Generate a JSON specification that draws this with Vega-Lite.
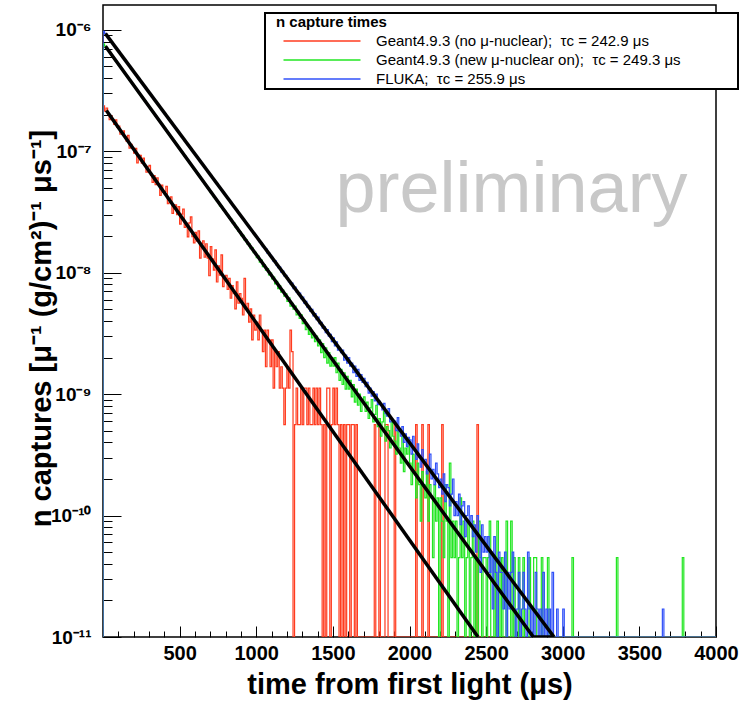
{
  "$schema": "https://vega.github.io/schema/vega-lite/v6.json",
  "width": 613,
  "height": 632,
  "autosize": "none",
  "padding": {"left": 103, "top": 5, "right": 27, "bottom": 64},
  "background": "white",
  "config": {
    "view": {"stroke": "black", "strokeWidth": 1.5},
    "font": "Liberation Sans"
  },
  "datasets": {
    "red": [
      {"t":0,"v":1e-11},
      {"t":0,"v":2.36e-7},{"t":10,"v":2.14e-7},{"t":20,"v":2.27e-7},{"t":30,"v":2.03e-7},{"t":40,"v":1.82e-7},{"t":50,"v":1.95e-7},{"t":60,"v":1.82e-7},{"t":70,"v":1.66e-7},{"t":80,"v":1.81e-7},{"t":90,"v":1.57e-7},
      {"t":100,"v":1.61e-7},{"t":110,"v":1.38e-7},{"t":120,"v":1.39e-7},{"t":130,"v":1.47e-7},{"t":140,"v":1.32e-7},{"t":150,"v":1.21e-7},{"t":160,"v":1.35e-7},{"t":170,"v":1.06e-7},{"t":180,"v":1.14e-7},{"t":190,"v":1.06e-7},
      {"t":200,"v":9.62e-8},{"t":210,"v":1.056e-7},{"t":220,"v":8.03e-8},{"t":230,"v":9.3e-8},{"t":240,"v":9.26e-8},{"t":250,"v":7.96e-8},{"t":260,"v":8.79e-8},{"t":270,"v":7.64e-8},{"t":280,"v":6.74e-8},{"t":290,"v":7.43e-8},
      {"t":300,"v":7.66e-8},{"t":310,"v":6.31e-8},{"t":320,"v":5.55e-8},{"t":330,"v":6.29e-8},{"t":340,"v":5.31e-8},{"t":350,"v":6.04e-8},{"t":360,"v":5.37e-8},{"t":370,"v":4.33e-8},{"t":380,"v":5.25e-8},{"t":390,"v":4.58e-8},
      {"t":400,"v":4.67e-8},{"t":410,"v":5.14e-8},{"t":420,"v":3.71e-8},{"t":430,"v":3.78e-8},{"t":440,"v":4.21e-8},{"t":450,"v":3.08e-8},{"t":460,"v":3.61e-8},{"t":470,"v":3.61e-8},{"t":480,"v":3.01e-8},{"t":490,"v":3.5e-8},
      {"t":500,"v":2.51e-8},{"t":510,"v":3.04e-8},{"t":520,"v":3.34e-8},{"t":530,"v":2.36e-8},{"t":540,"v":2.55e-8},{"t":550,"v":1.97e-8},{"t":560,"v":2.57e-8},{"t":570,"v":2.88e-8},{"t":580,"v":1.98e-8},{"t":590,"v":1.76e-8},
      {"t":600,"v":2.15e-8},{"t":610,"v":1.82e-8},{"t":620,"v":2.21e-8},{"t":630,"v":1.32e-8},{"t":640,"v":1.74e-8},{"t":650,"v":1.83e-8},{"t":660,"v":1.34e-8},{"t":670,"v":1.73e-8},{"t":680,"v":1.32e-8},{"t":690,"v":9.43e-9},
      {"t":700,"v":1.64e-8},{"t":710,"v":1.3e-8},{"t":720,"v":1.05e-8},{"t":730,"v":1.54e-8},{"t":740,"v":8.38e-9},{"t":750,"v":1.14e-8},{"t":760,"v":9.55e-9},{"t":770,"v":1.4e-8},{"t":780,"v":7.68e-9},{"t":790,"v":8.98e-9},
      {"t":800,"v":9.52e-9},{"t":810,"v":7.28e-9},{"t":820,"v":8.96e-9},{"t":830,"v":6.16e-9},{"t":840,"v":7.84e-9},{"t":850,"v":6.72e-9},{"t":860,"v":5.04e-9},{"t":870,"v":8.4e-9},{"t":880,"v":5.6e-9},{"t":890,"v":6.72e-9},
      {"t":900,"v":6.16e-9},{"t":910,"v":4.48e-9},{"t":920,"v":8.96e-9},{"t":930,"v":5.04e-9},{"t":940,"v":5.6e-9},{"t":950,"v":3.92e-9},{"t":960,"v":5.04e-9},{"t":970,"v":2.8e-9},{"t":980,"v":4.48e-9},{"t":990,"v":3.36e-9},
      {"t":1000,"v":3.92e-9},{"t":1010,"v":2.8e-9},{"t":1020,"v":4.48e-9},{"t":1030,"v":3.36e-9},{"t":1040,"v":2.24e-9},{"t":1050,"v":3.36e-9},{"t":1060,"v":1.68e-9},{"t":1070,"v":3.36e-9},{"t":1080,"v":2.8e-9},{"t":1090,"v":1.68e-9},
      {"t":1100,"v":2.8e-9},{"t":1110,"v":1.12e-9},{"t":1120,"v":2.24e-9},{"t":1130,"v":1.68e-9},{"t":1140,"v":2.24e-9},{"t":1150,"v":1.12e-9},{"t":1160,"v":1.68e-9},{"t":1170,"v":1.12e-9},{"t":1180,"v":5.6e-10},{"t":1190,"v":1.12e-9},
      {"t":1200,"v":1.68e-9},{"t":1210,"v":1.12e-9},{"t":1220,"v":3.36e-9},{"t":1230,"v":2.24e-9},{"t":1240,"v":1e-11},{"t":1250,"v":5.6e-10},{"t":1260,"v":1.12e-9},{"t":1270,"v":5.6e-10},{"t":1290,"v":1.12e-9},
      {"t":1300,"v":5.6e-10},{"t":1310,"v":1.12e-9},{"t":1330,"v":5.6e-10},{"t":1340,"v":1.12e-9},{"t":1350,"v":5.6e-10},{"t":1370,"v":1.12e-9},{"t":1380,"v":5.6e-10},{"t":1390,"v":1.12e-9},
      {"t":1400,"v":5.6e-10},{"t":1410,"v":1.12e-9},{"t":1420,"v":5.6e-10},{"t":1430,"v":1e-11},{"t":1440,"v":5.6e-10},{"t":1450,"v":1e-11},{"t":1460,"v":1.12e-9},{"t":1480,"v":1e-11},{"t":1490,"v":5.6e-10},
      {"t":1500,"v":1.12e-9},{"t":1510,"v":5.6e-10},{"t":1520,"v":1.12e-9},{"t":1530,"v":5.6e-10},{"t":1540,"v":1e-11},{"t":1550,"v":5.6e-10},{"t":1560,"v":1e-11},{"t":1570,"v":5.6e-10},{"t":1580,"v":1e-11},{"t":1590,"v":5.6e-10},
      {"t":1610,"v":1e-11},{"t":1620,"v":5.6e-10},{"t":1640,"v":1e-11},{"t":1650,"v":5.6e-10},{"t":1660,"v":1e-11},
      {"t":1770,"v":5.6e-10},{"t":1780,"v":1e-11},{"t":1800,"v":5.6e-10},{"t":1810,"v":1e-11},{"t":1840,"v":5.6e-10},{"t":1860,"v":1e-11},{"t":1900,"v":5.6e-10},{"t":1910,"v":1e-11},
      {"t":2040,"v":5.6e-10},{"t":2050,"v":1e-11},{"t":2080,"v":5.6e-10},{"t":2090,"v":1e-11},{"t":2120,"v":5.6e-10},{"t":2130,"v":1e-11},{"t":2210,"v":5.6e-10},{"t":2220,"v":1e-11},{"t":2440,"v":5.6e-10},{"t":2450,"v":1e-11},
      {"t":4000,"v":1e-11}
    ],
    "green": [
      {"t":0,"v":1e-11},
      {"t":0,"v":7.65e-7},{"t":10,"v":7.34e-7},{"t":20,"v":7.06e-7},{"t":30,"v":6.78e-7},{"t":40,"v":6.51e-7},{"t":50,"v":6.26e-7},{"t":60,"v":6.01e-7},{"t":70,"v":5.77e-7},{"t":80,"v":5.55e-7},{"t":90,"v":5.33e-7},
      {"t":100,"v":5.12e-7},{"t":110,"v":4.92e-7},{"t":120,"v":4.72e-7},{"t":130,"v":4.54e-7},{"t":140,"v":4.36e-7},{"t":150,"v":4.19e-7},{"t":160,"v":4.02e-7},{"t":170,"v":3.87e-7},{"t":180,"v":3.71e-7},{"t":190,"v":3.57e-7},
      {"t":200,"v":3.43e-7},{"t":210,"v":3.29e-7},{"t":220,"v":3.16e-7},{"t":230,"v":3.04e-7},{"t":240,"v":2.92e-7},{"t":250,"v":2.8e-7},{"t":260,"v":2.69e-7},{"t":270,"v":2.59e-7},{"t":280,"v":2.49e-7},{"t":290,"v":2.39e-7},
      {"t":300,"v":2.3e-7},{"t":310,"v":2.2e-7},{"t":320,"v":2.12e-7},{"t":330,"v":2.03e-7},{"t":340,"v":1.95e-7},{"t":350,"v":1.88e-7},{"t":360,"v":1.8e-7},{"t":370,"v":1.73e-7},{"t":380,"v":1.67e-7},{"t":390,"v":1.6e-7},
      {"t":400,"v":1.54e-7},{"t":410,"v":1.48e-7},{"t":420,"v":1.42e-7},{"t":430,"v":1.36e-7},{"t":440,"v":1.31e-7},{"t":450,"v":1.26e-7},{"t":460,"v":1.21e-7},{"t":470,"v":1.16e-7},{"t":480,"v":1.12e-7},{"t":490,"v":1.07e-7},
      {"t":500,"v":1.03e-7},{"t":510,"v":9.89e-8},{"t":520,"v":9.5e-8},{"t":530,"v":9.12e-8},{"t":540,"v":8.76e-8},{"t":550,"v":8.42e-8},{"t":560,"v":8.09e-8},{"t":570,"v":7.77e-8},{"t":580,"v":7.47e-8},{"t":590,"v":7.17e-8},
      {"t":600,"v":6.89e-8},{"t":610,"v":6.62e-8},{"t":620,"v":6.36e-8},{"t":630,"v":6.11e-8},{"t":640,"v":5.87e-8},{"t":650,"v":5.64e-8},{"t":660,"v":5.41e-8},{"t":670,"v":5.2e-8},{"t":680,"v":5e-8},{"t":690,"v":4.8e-8},
      {"t":700,"v":4.55e-8},{"t":710,"v":4.48e-8},{"t":720,"v":4.2e-8},{"t":730,"v":4.12e-8},{"t":740,"v":3.88e-8},{"t":750,"v":3.82e-8},{"t":760,"v":3.55e-8},{"t":770,"v":3.52e-8},{"t":780,"v":3.3e-8},{"t":790,"v":3.25e-8},
      {"t":800,"v":3.05e-8},{"t":810,"v":2.99e-8},{"t":820,"v":2.8e-8},{"t":830,"v":2.78e-8},{"t":840,"v":2.58e-8},{"t":850,"v":2.57e-8},{"t":860,"v":2.38e-8},{"t":870,"v":2.36e-8},{"t":880,"v":2.2e-8},{"t":890,"v":2.18e-8},
      {"t":900,"v":2.02e-8},{"t":910,"v":2.03e-8},{"t":920,"v":1.86e-8},{"t":930,"v":1.87e-8},{"t":940,"v":1.72e-8},{"t":950,"v":1.73e-8},{"t":960,"v":1.58e-8},{"t":970,"v":1.6e-8},{"t":980,"v":1.46e-8},{"t":990,"v":1.47e-8},
      {"t":1000,"v":1.33e-8},{"t":1010,"v":1.37e-8},{"t":1020,"v":1.22e-8},{"t":1030,"v":1.27e-8},{"t":1040,"v":1.12e-8},{"t":1050,"v":1.16e-8},{"t":1060,"v":1.05e-8},{"t":1070,"v":1.08e-8},{"t":1080,"v":9.6e-9},{"t":1090,"v":9.9e-9},
      {"t":1100,"v":8.9e-9},{"t":1110,"v":9.2e-9},{"t":1120,"v":8.1e-9},{"t":1130,"v":8.5e-9},{"t":1140,"v":7.4e-9},{"t":1150,"v":7.8e-9},{"t":1160,"v":6.9e-9},{"t":1170,"v":7.2e-9},{"t":1180,"v":6.4e-9},{"t":1190,"v":6.7e-9},
      {"t":1200,"v":5.8e-9},{"t":1210,"v":6.2e-9},{"t":1220,"v":5.3e-9},{"t":1230,"v":5.6e-9},{"t":1240,"v":5e-9},{"t":1250,"v":5.3e-9},{"t":1260,"v":4.5e-9},{"t":1270,"v":4.8e-9},{"t":1280,"v":4.2e-9},{"t":1290,"v":4.5e-9},
      {"t":1300,"v":3.8e-9},{"t":1310,"v":4.1e-9},{"t":1320,"v":3.4e-9},{"t":1330,"v":3.6e-9},{"t":1340,"v":3.1e-9},{"t":1350,"v":3.5e-9},{"t":1360,"v":2.9e-9},{"t":1370,"v":3.2e-9},{"t":1380,"v":2.7e-9},{"t":1390,"v":3e-9},
      {"t":1400,"v":2.5e-9},{"t":1410,"v":2.8e-9},{"t":1420,"v":2.2e-9},{"t":1430,"v":2.6e-9},{"t":1440,"v":2e-9},{"t":1450,"v":2.4e-9},{"t":1460,"v":1.8e-9},{"t":1470,"v":2.2e-9},{"t":1480,"v":1.7e-9},{"t":1490,"v":2e-9},
      {"t":1500,"v":1.7e-9},{"t":1510,"v":2e-9},{"t":1520,"v":1.5e-9},{"t":1530,"v":1.8e-9},{"t":1540,"v":1.3e-9},{"t":1550,"v":1.6e-9},{"t":1560,"v":1.2e-9},{"t":1570,"v":1.5e-9},{"t":1580,"v":1.1e-9},{"t":1590,"v":1.4e-9},
      {"t":1600,"v":1.1e-9},{"t":1610,"v":1.3e-9},{"t":1620,"v":9.5e-10},{"t":1630,"v":1.2e-9},{"t":1640,"v":8.6e-10},{"t":1650,"v":1.1e-9},{"t":1660,"v":8.1e-10},{"t":1670,"v":1e-9},{"t":1680,"v":7.2e-10},{"t":1690,"v":9e-10},
      {"t":1700,"v":9.5e-10},{"t":1710,"v":7.2e-10},{"t":1720,"v":8.6e-10},{"t":1730,"v":6.3e-10},{"t":1740,"v":7.7e-10},{"t":1750,"v":9e-10},{"t":1760,"v":5.9e-10},{"t":1770,"v":6.8e-10},{"t":1780,"v":8.1e-10},{"t":1790,"v":5.4e-10},
      {"t":1800,"v":6.3e-10},{"t":1810,"v":4.5e-10},{"t":1820,"v":5.9e-10},{"t":1830,"v":7.2e-10},{"t":1840,"v":4.1e-10},{"t":1850,"v":5.4e-10},{"t":1860,"v":5e-10},{"t":1870,"v":3.6e-10},{"t":1880,"v":5.9e-10},{"t":1890,"v":4.5e-10},
      {"t":1900,"v":4.1e-10},{"t":1910,"v":3.2e-10},{"t":1920,"v":5e-10},{"t":1930,"v":3.6e-10},{"t":1940,"v":2.7e-10},{"t":1950,"v":4.5e-10},{"t":1960,"v":2.3e-10},{"t":1970,"v":3.6e-10},{"t":1980,"v":3.2e-10},{"t":1990,"v":4.1e-10},
      {"t":2000,"v":2.7e-10},{"t":2010,"v":1.8e-10},{"t":2020,"v":3.2e-10},{"t":2030,"v":2.3e-10},{"t":2040,"v":1.4e-10},{"t":2050,"v":2.7e-10},{"t":2060,"v":1.8e-10},{"t":2070,"v":9e-11},{"t":2080,"v":2.3e-10},{"t":2090,"v":1.8e-10},
      {"t":2100,"v":1.4e-10},{"t":2110,"v":2.3e-10},{"t":2120,"v":9e-11},{"t":2130,"v":1.8e-10},{"t":2140,"v":1.4e-10},{"t":2150,"v":4.5e-11},{"t":2160,"v":1.8e-10},{"t":2170,"v":9e-11},{"t":2180,"v":1.4e-10},{"t":2190,"v":1e-11},
      {"t":2200,"v":1.4e-10},{"t":2210,"v":9e-11},{"t":2220,"v":4.5e-11},{"t":2230,"v":1.8e-10},{"t":2240,"v":9e-11},{"t":2250,"v":1e-11},{"t":2260,"v":2.7e-10},{"t":2270,"v":4.5e-11},{"t":2280,"v":9e-11},{"t":2290,"v":4.5e-11},
      {"t":2300,"v":9e-11},{"t":2310,"v":1e-11},{"t":2320,"v":4.5e-11},{"t":2330,"v":1.4e-10},{"t":2340,"v":4.5e-11},{"t":2350,"v":9e-11},{"t":2360,"v":1e-11},{"t":2370,"v":4.5e-11},{"t":2380,"v":9e-11},{"t":2390,"v":1e-11},
      {"t":2400,"v":4.5e-11},{"t":2410,"v":9e-11},{"t":2420,"v":1e-11},{"t":2430,"v":4.5e-11},{"t":2440,"v":1e-11},{"t":2450,"v":9e-11},{"t":2460,"v":4.5e-11},{"t":2470,"v":1e-11},{"t":2480,"v":4.5e-11},
      {"t":2500,"v":1e-11},{"t":2510,"v":4.5e-11},{"t":2520,"v":9e-11},{"t":2530,"v":1e-11},{"t":2550,"v":4.5e-11},{"t":2560,"v":1e-11},{"t":2570,"v":9e-11},{"t":2580,"v":4.5e-11},{"t":2590,"v":1e-11},
      {"t":2600,"v":4.5e-11},{"t":2610,"v":1e-11},{"t":2630,"v":9e-11},{"t":2640,"v":1e-11},{"t":2660,"v":9e-11},{"t":2670,"v":1e-11},{"t":2680,"v":4.5e-11},{"t":2690,"v":1e-11},
      {"t":2710,"v":4.5e-11},{"t":2720,"v":1e-11},{"t":2740,"v":4.5e-11},{"t":2750,"v":1e-11},{"t":2780,"v":4.5e-11},{"t":2790,"v":1e-11},
      {"t":2810,"v":4.5e-11},{"t":2830,"v":1e-11},{"t":2860,"v":4.5e-11},{"t":2870,"v":1e-11},{"t":2900,"v":4.5e-11},{"t":2910,"v":1e-11},
      {"t":3060,"v":4.5e-11},{"t":3070,"v":1e-11},{"t":3350,"v":4.5e-11},{"t":3360,"v":1e-11},{"t":3780,"v":4.5e-11},{"t":3790,"v":1e-11},
      {"t":4000,"v":1e-11}
    ],
    "blue": [
      {"t":0,"v":1e-11},
      {"t":0,"v":9.71e-7},{"t":10,"v":9.34e-7},{"t":20,"v":8.98e-7},{"t":30,"v":8.63e-7},{"t":40,"v":8.3e-7},{"t":50,"v":7.98e-7},{"t":60,"v":7.68e-7},{"t":70,"v":7.38e-7},{"t":80,"v":7.1e-7},{"t":90,"v":6.83e-7},
      {"t":100,"v":6.57e-7},{"t":110,"v":6.32e-7},{"t":120,"v":6.07e-7},{"t":130,"v":5.84e-7},{"t":140,"v":5.62e-7},{"t":150,"v":5.4e-7},{"t":160,"v":5.2e-7},{"t":170,"v":5e-7},{"t":180,"v":4.8e-7},{"t":190,"v":4.62e-7},
      {"t":200,"v":4.44e-7},{"t":210,"v":4.27e-7},{"t":220,"v":4.11e-7},{"t":230,"v":3.95e-7},{"t":240,"v":3.8e-7},{"t":250,"v":3.65e-7},{"t":260,"v":3.51e-7},{"t":270,"v":3.38e-7},{"t":280,"v":3.25e-7},{"t":290,"v":3.13e-7},
      {"t":300,"v":3.01e-7},{"t":310,"v":2.89e-7},{"t":320,"v":2.78e-7},{"t":330,"v":2.67e-7},{"t":340,"v":2.57e-7},{"t":350,"v":2.47e-7},{"t":360,"v":2.38e-7},{"t":370,"v":2.29e-7},{"t":380,"v":2.2e-7},{"t":390,"v":2.11e-7},
      {"t":400,"v":2.03e-7},{"t":410,"v":1.96e-7},{"t":420,"v":1.88e-7},{"t":430,"v":1.81e-7},{"t":440,"v":1.74e-7},{"t":450,"v":1.67e-7},{"t":460,"v":1.61e-7},{"t":470,"v":1.55e-7},{"t":480,"v":1.49e-7},{"t":490,"v":1.43e-7},
      {"t":500,"v":1.38e-7},{"t":510,"v":1.32e-7},{"t":520,"v":1.27e-7},{"t":530,"v":1.22e-7},{"t":540,"v":1.18e-7},{"t":550,"v":1.13e-7},{"t":560,"v":1.09e-7},{"t":570,"v":1.05e-7},{"t":580,"v":1.01e-7},{"t":590,"v":9.68e-8},
      {"t":600,"v":9.31e-8},{"t":610,"v":8.95e-8},{"t":620,"v":8.61e-8},{"t":630,"v":8.28e-8},{"t":640,"v":7.96e-8},{"t":650,"v":7.66e-8},{"t":660,"v":7.36e-8},{"t":670,"v":7.08e-8},{"t":680,"v":6.81e-8},{"t":690,"v":6.55e-8},
      {"t":700,"v":6.3e-8},{"t":710,"v":6.06e-8},{"t":720,"v":5.82e-8},{"t":730,"v":5.6e-8},{"t":740,"v":5.39e-8},{"t":750,"v":5.18e-8},{"t":760,"v":4.98e-8},{"t":770,"v":4.79e-8},{"t":780,"v":4.61e-8},{"t":790,"v":4.43e-8},
      {"t":800,"v":4.26e-8},{"t":810,"v":4.1e-8},{"t":820,"v":3.94e-8},{"t":830,"v":3.79e-8},{"t":840,"v":3.64e-8},{"t":850,"v":3.5e-8},{"t":860,"v":3.37e-8},{"t":870,"v":3.24e-8},{"t":880,"v":3.12e-8},{"t":890,"v":3e-8},
      {"t":900,"v":2.88e-8},{"t":910,"v":2.77e-8},{"t":920,"v":2.67e-8},{"t":930,"v":2.56e-8},{"t":940,"v":2.47e-8},{"t":950,"v":2.37e-8},{"t":960,"v":2.28e-8},{"t":970,"v":2.19e-8},{"t":980,"v":2.11e-8},{"t":990,"v":2.03e-8},
      {"t":1000,"v":1.96e-8},{"t":1010,"v":1.9e-8},{"t":1020,"v":1.78e-8},{"t":1030,"v":1.75e-8},{"t":1040,"v":1.64e-8},{"t":1050,"v":1.62e-8},{"t":1060,"v":1.57e-8},{"t":1070,"v":1.45e-8},{"t":1080,"v":1.44e-8},{"t":1090,"v":1.39e-8},
      {"t":1100,"v":1.34e-8},{"t":1110,"v":1.24e-8},{"t":1120,"v":1.25e-8},{"t":1130,"v":1.15e-8},{"t":1140,"v":1.1e-8},{"t":1150,"v":1.11e-8},{"t":1160,"v":1.01e-8},{"t":1170,"v":1.03e-8},{"t":1180,"v":9.4e-9},{"t":1190,"v":9.5e-9},
      {"t":1200,"v":9.1e-9},{"t":1210,"v":8.4e-9},{"t":1220,"v":8.1e-9},{"t":1230,"v":8.2e-9},{"t":1240,"v":7.4e-9},{"t":1250,"v":7.6e-9},{"t":1260,"v":6.9e-9},{"t":1270,"v":6.7e-9},{"t":1280,"v":6.8e-9},{"t":1290,"v":6.1e-9},
      {"t":1300,"v":6.3e-9},{"t":1310,"v":5.6e-9},{"t":1320,"v":5.8e-9},{"t":1330,"v":5.2e-9},{"t":1340,"v":5.3e-9},{"t":1350,"v":4.8e-9},{"t":1360,"v":5e-9},{"t":1370,"v":4.4e-9},{"t":1380,"v":4.6e-9},{"t":1390,"v":4.1e-9},
      {"t":1400,"v":4.3e-9},{"t":1410,"v":3.8e-9},{"t":1420,"v":3.9e-9},{"t":1430,"v":3.5e-9},{"t":1440,"v":3.6e-9},{"t":1450,"v":3.2e-9},{"t":1460,"v":3.4e-9},{"t":1470,"v":3e-9},{"t":1480,"v":3.1e-9},{"t":1490,"v":2.7e-9},
      {"t":1500,"v":2.9e-9},{"t":1510,"v":2.5e-9},{"t":1520,"v":2.7e-9},{"t":1530,"v":2.3e-9},{"t":1540,"v":2.4e-9},{"t":1550,"v":2.2e-9},{"t":1560,"v":2.3e-9},{"t":1570,"v":1.9e-9},{"t":1580,"v":2.1e-9},{"t":1590,"v":1.8e-9},
      {"t":1600,"v":2e-9},{"t":1610,"v":1.7e-9},{"t":1620,"v":1.8e-9},{"t":1630,"v":1.5e-9},{"t":1640,"v":1.7e-9},{"t":1650,"v":1.4e-9},{"t":1660,"v":1.6e-9},{"t":1670,"v":1.3e-9},{"t":1680,"v":1.45e-9},{"t":1690,"v":1.25e-9},
      {"t":1700,"v":1.35e-9},{"t":1710,"v":1.15e-9},{"t":1720,"v":1.25e-9},{"t":1730,"v":1.02e-9},{"t":1740,"v":1.12e-9},{"t":1750,"v":9.6e-10},{"t":1760,"v":1.05e-9},{"t":1770,"v":8.8e-10},{"t":1780,"v":1e-9},{"t":1790,"v":8.2e-10},
      {"t":1800,"v":8.7e-10},{"t":1810,"v":8.2e-10},{"t":1820,"v":7.4e-10},{"t":1830,"v":8.4e-10},{"t":1840,"v":6.9e-10},{"t":1850,"v":6.6e-10},{"t":1860,"v":7.6e-10},{"t":1870,"v":5.9e-10},{"t":1880,"v":6.2e-10},{"t":1890,"v":6e-10},
      {"t":1900,"v":6e-10},{"t":1910,"v":5e-10},{"t":1920,"v":6.4e-10},{"t":1930,"v":4.9e-10},{"t":1940,"v":4.5e-10},{"t":1950,"v":5.4e-10},{"t":1960,"v":4e-10},{"t":1970,"v":4.7e-10},{"t":1980,"v":3.7e-10},{"t":1990,"v":4.4e-10},
      {"t":2000,"v":4.2e-10},{"t":2010,"v":3.2e-10},{"t":2020,"v":4.5e-10},{"t":2030,"v":3.5e-10},{"t":2040,"v":2.9e-10},{"t":2050,"v":3.9e-10},{"t":2060,"v":3e-10},{"t":2070,"v":2.5e-10},{"t":2080,"v":3.5e-10},{"t":2090,"v":2.7e-10},
      {"t":2100,"v":2.9e-10},{"t":2110,"v":2.2e-10},{"t":2120,"v":2.5e-10},{"t":2130,"v":3.2e-10},{"t":2140,"v":2e-10},{"t":2150,"v":2.4e-10},{"t":2160,"v":1.8e-10},{"t":2170,"v":2.7e-10},{"t":2180,"v":2.2e-10},{"t":2190,"v":1.7e-10},
      {"t":2200,"v":2e-10},{"t":2210,"v":1.5e-10},{"t":2220,"v":2.2e-10},{"t":2230,"v":1.3e-10},{"t":2240,"v":1.8e-10},{"t":2250,"v":1.7e-10},{"t":2260,"v":1.2e-10},{"t":2270,"v":1.5e-10},{"t":2280,"v":2e-10},{"t":2290,"v":1e-10},
      {"t":2300,"v":1.3e-10},{"t":2310,"v":1e-10},{"t":2320,"v":1.5e-10},{"t":2330,"v":8.4e-11},{"t":2340,"v":1.2e-10},{"t":2350,"v":1.3e-10},{"t":2360,"v":6.7e-11},{"t":2370,"v":1e-10},{"t":2380,"v":1.2e-10},{"t":2390,"v":8.4e-11},
      {"t":2400,"v":1e-10},{"t":2410,"v":6.7e-11},{"t":2420,"v":8.4e-11},{"t":2430,"v":5e-11},{"t":2440,"v":1e-10},{"t":2450,"v":6.7e-11},{"t":2460,"v":3.4e-11},{"t":2470,"v":8.4e-11},{"t":2480,"v":5e-11},{"t":2490,"v":6.7e-11},
      {"t":2500,"v":5e-11},{"t":2510,"v":6.7e-11},{"t":2520,"v":3.4e-11},{"t":2530,"v":5e-11},{"t":2540,"v":1.7e-11},{"t":2550,"v":6.7e-11},{"t":2560,"v":3.4e-11},{"t":2570,"v":1e-11},{"t":2580,"v":5e-11},{"t":2590,"v":3.4e-11},
      {"t":2610,"v":1.7e-11},{"t":2620,"v":5e-11},{"t":2630,"v":1e-11},{"t":2640,"v":3.4e-11},{"t":2650,"v":1.7e-11},{"t":2660,"v":3.4e-11},{"t":2670,"v":5e-11},{"t":2680,"v":1.7e-11},{"t":2690,"v":1e-11},
      {"t":2700,"v":1.7e-11},{"t":2710,"v":3.4e-11},{"t":2720,"v":1e-11},{"t":2730,"v":1.7e-11},{"t":2740,"v":3.4e-11},{"t":2750,"v":1.7e-11},{"t":2760,"v":1e-11},{"t":2770,"v":5e-11},{"t":2780,"v":1.7e-11},{"t":2790,"v":1e-11},
      {"t":2800,"v":1.7e-11},{"t":2810,"v":1e-11},{"t":2820,"v":3.4e-11},{"t":2830,"v":1.7e-11},{"t":2840,"v":1e-11},{"t":2850,"v":1.7e-11},{"t":2860,"v":1e-11},{"t":2870,"v":3.4e-11},{"t":2880,"v":1e-11},{"t":2890,"v":1.7e-11},
      {"t":2900,"v":1e-11},{"t":2910,"v":1.7e-11},{"t":2920,"v":1e-11},{"t":2930,"v":3.4e-11},{"t":2940,"v":1e-11},{"t":2960,"v":1.7e-11},{"t":2970,"v":1e-11},{"t":3000,"v":1.7e-11},{"t":3010,"v":1e-11},
      {"t":3650,"v":1.7e-11},{"t":3660,"v":1e-11},
      {"t":4000,"v":1e-11}
    ],
    "fit": [
      {"f":"r","t":22,"v":2.16e-7},{"f":"r","t":2447,"v":1e-11},
      {"f":"g","t":16,"v":7.31e-7},{"f":"g","t":2808,"v":1e-11},{"f":"g","t":2935,"v":1e-11},
      {"f":"b","t":16,"v":9.3e-7},{"f":"b","t":2943,"v":1e-11}
    ]
  },
  "encoding": {
    "x": {
      "field": "t",
      "type": "quantitative",
      "scale": {"domain": [0, 4000], "nice": false, "zero": false},
      "axis": {
        "values": [0,100,200,300,400,500,600,700,800,900,1000,1100,1200,1300,1400,1500,1600,1700,1800,1900,2000,2100,2200,2300,2400,2500,2600,2700,2800,2900,3000,3100,3200,3300,3400,3500,3600,3700,3800,3900,4000],
        "labelExpr": "datum.value > 0 && datum.value % 500 == 0 ? format(datum.value, 'd') : ''",
        "tickSize": {"condition": {"test": "datum.value % 500 == 0", "value": -11}, "value": -6},
        "tickColor": "black",
        "tickWidth": 1,
        "domain": false,
        "grid": false,
        "labelFont": "Liberation Sans",
        "labelFontSize": 20,
        "labelFontWeight": "bold",
        "labelColor": "black",
        "labelPadding": 17,
        "labelBaseline": "top",
        "labelFlush": false,
        "labelOverlap": false,
        "title": "time from first light (μs)",
        "titleFont": "Liberation Sans",
        "titleFontSize": 29,
        "titleFontWeight": "bold",
        "titleColor": "black",
        "titleBaseline": "alphabetic",
        "titleY": 56
      }
    },
    "y": {
      "field": "v",
      "type": "quantitative",
      "scale": {"type": "log", "domain": [1e-11, 1.6e-6], "nice": false},
      "axis": {
        "values": [1e-11,2e-11,3e-11,4e-11,5e-11,6e-11,7e-11,8e-11,9e-11,1e-10,2e-10,3e-10,4e-10,5e-10,6e-10,7e-10,8e-10,9e-10,1e-9,2e-9,3e-9,4e-9,5e-9,6e-9,7e-9,8e-9,9e-9,1e-8,2e-8,3e-8,4e-8,5e-8,6e-8,7e-8,8e-8,9e-8,1e-7,2e-7,3e-7,4e-7,5e-7,6e-7,7e-7,8e-7,9e-7,1e-6],
        "labelExpr": "datum.value == 1e-6 ? '10⁻⁶' : datum.value == 1e-7 ? '10⁻⁷' : datum.value == 1e-8 ? '10⁻⁸' : datum.value == 1e-9 ? '10⁻⁹' : datum.value == 1e-10 ? '10⁻¹⁰' : datum.value == 1e-11 ? '10⁻¹¹' : ''",
        "tickSize": {"condition": {"test": "indexof([1e-11,1e-10,1e-9,1e-8,1e-7,1e-6], datum.value) >= 0", "value": -18}, "value": -9},
        "tickColor": "black",
        "tickWidth": 1,
        "domain": false,
        "grid": false,
        "labelFont": "Liberation Sans",
        "labelFontSize": 19,
        "labelFontWeight": "bold",
        "labelColor": "black",
        "labelPadding": 30,
        "labelFlush": false,
        "labelOverlap": false,
        "title": "n captures [μ⁻¹ (g/cm²)⁻¹ μs⁻¹]",
        "titleFont": "Liberation Sans",
        "titleFontSize": 29,
        "titleFontWeight": "bold",
        "titleColor": "black",
        "titleBaseline": "alphabetic",
        "titleAngle": -90,
        "titleAlign": "center",
        "titleX": -53,
        "titleY": 323
      }
    }
  },
  "layer": [
    {
      "data": {"values": [{"label": "preliminary", "t": 2666, "v": 3.13e-8}]},
      "mark": {"type": "text", "fontSize": 72, "color": "#c8c8c8", "baseline": "alphabetic", "align": "center", "font": "Liberation Sans"},
      "encoding": {"text": {"field": "label", "type": "nominal"}}
    },
    {
      "data": {"name": "red"},
      "mark": {"type": "line", "interpolate": "step-after", "strokeWidth": 1.2, "clip": true},
      "encoding": {
        "order": {"value": null},
        "color": {
          "datum": "Geant4.9.3 (no μ-nuclear);\u00a0\u00a0τc = 242.9 μs",
          "type": "nominal",
          "scale": {
            "domain": ["Geant4.9.3 (no μ-nuclear);\u00a0\u00a0τc = 242.9 μs", "Geant4.9.3 (new μ-nuclear on);\u00a0\u00a0τc = 249.3 μs", "FLUKA;\u00a0\u00a0τc = 255.9 μs"],
            "range": ["#ff3b1f", "#22e622", "#3050f8"]
          },
          "legend": {
            "title": "n capture times",
            "orient": "none",
            "legendX": 162,
            "legendY": 8,
            "direction": "vertical",
            "titleFont": "Liberation Sans",
            "titleFontSize": 15,
            "titleFontWeight": "bold",
            "titleColor": "black",
            "titlePadding": 3,
            "titleAnchor": "start",
            "labelFont": "Liberation Sans",
            "labelFontSize": 15,
            "labelColor": "black",
            "labelOffset": 46,
            "labelLimit": 600,
            "labelExpr": "indexof(datum.label, 'new') >= 0 ? datum.label + '\u2800\u2800\u2800\u2800\u2800' : datum.label",
            "symbolType": "M-5.5,0H5.5",
            "symbolSize": 196,
            "symbolStrokeWidth": 1.5,
            "symbolFillColor": "transparent",
            "symbolOffset": 47,
            "rowPadding": 3,
            "padding": 2,
            "strokeColor": "black",
            "fillColor": "white",
            "encode": {
              "legend": {"update": {"strokeWidth": {"value": 2}}},
              "title": {"update": {"dx": {"value": 9}}}
            }
          }
        }
      }
    },
    {
      "data": {"name": "green"},
      "mark": {"type": "line", "interpolate": "step-after", "strokeWidth": 1.2, "clip": true},
      "encoding": {
        "order": {"value": null},
        "color": {"datum": "Geant4.9.3 (new μ-nuclear on);\u00a0\u00a0τc = 249.3 μs", "type": "nominal"}
      }
    },
    {
      "data": {"name": "blue"},
      "mark": {"type": "line", "interpolate": "step-after", "strokeWidth": 1.2, "clip": true},
      "encoding": {
        "order": {"value": null},
        "color": {"datum": "FLUKA;\u00a0\u00a0τc = 255.9 μs", "type": "nominal"}
      }
    },
    {
      "data": {"name": "fit"},
      "mark": {"type": "line", "color": "black", "strokeWidth": 3.5, "clip": true},
      "encoding": {"detail": {"field": "f", "type": "nominal"}}
    }
  ]
}
